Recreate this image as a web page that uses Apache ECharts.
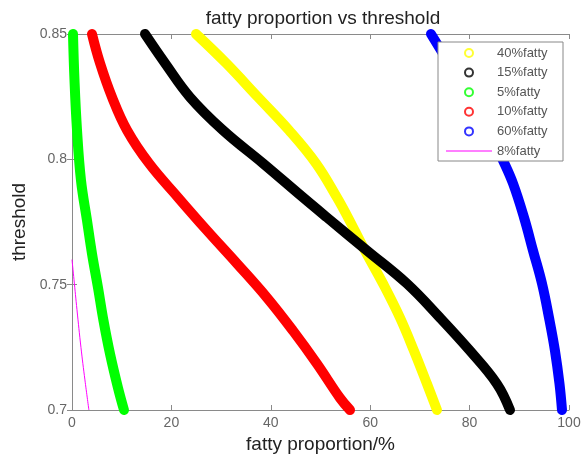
<!DOCTYPE html>
<html>
<head>
<meta charset="utf-8">
<script src="https://cdn.jsdelivr.net/npm/echarts@6/dist/echarts.min.js"></script>
<style>
  html, body { margin: 0; padding: 0; background: #fff; }
  #chart { width: 585px; height: 460px; }
</style>
</head>
<body>
<div id="chart"></div>
<script>
// points are [fatty proportion %, threshold]
var fatty40 = [[24.95,0.85],[30.99,0.8384],[37.42,0.8248],[43.66,0.8116],[49.09,0.7984],[53.32,0.7848],[55.53,0.7768],[58.95,0.7636],[62.58,0.7504],[66.0,0.7368],[68.81,0.7236],[71.43,0.7104],[73.44,0.7]];
var fatty15 = [[14.69,0.85],[18.71,0.8384],[23.74,0.8248],[30.38,0.8116],[38.43,0.7984],[46.48,0.7848],[51.31,0.7768],[59.36,0.7636],[67.4,0.7504],[74.04,0.7368],[80.08,0.7236],[85.51,0.7104],[88.13,0.7]];
var fatty5 = [[0.2,0.85],[0.5,0.8316],[1.01,0.8116],[1.81,0.7916],[3.02,0.7756],[4.02,0.7624],[5.23,0.7488],[6.34,0.7356],[7.65,0.7224],[9.26,0.7088],[10.46,0.7]];
var fatty10 = [[4.02,0.85],[5.63,0.8384],[8.05,0.8248],[11.07,0.8116],[15.49,0.7984],[21.33,0.7848],[27.16,0.7716],[33.2,0.7584],[39.24,0.7448],[44.47,0.7316],[49.3,0.7184],[53.92,0.7048],[55.94,0.7]];
var fatty60 = [[72.23,0.85],[75.45,0.8396],[78.47,0.8296],[81.49,0.8196],[84.31,0.8096],[86.72,0.7996],[88.73,0.7904],[90.95,0.7768],[92.76,0.7636],[94.57,0.7504],[95.98,0.7368],[97.18,0.7236],[98.09,0.7104],[98.59,0.7]];
var fatty8 = [[0,0.76],[0.4,0.752],[1.0,0.74],[1.8,0.725],[2.6,0.712],[3.4,0.7]];

var names = ['40%fatty', '15%fatty', '5%fatty', '10%fatty', '60%fatty', '8%fatty'];
var colors = ['#ffff00', '#000000', '#00ff00', '#ff0000', '#0000ff', '#ff00ff'];
var xTicks = [0, 20, 40, 60, 80, 100];
var yTicks = [0.7, 0.75, 0.8, 0.85];

var font = 'Liberation Sans, Arial, sans-serif';
var axisGray = '#8a8a8a';

function thick(i, data) {
    return {
        name: names[i],
        type: 'line',
        data: data,
        smooth: 0.4,
        symbol: 'none',
        clip: false,
        color: colors[i],
        lineStyle: { width: 10, color: colors[i], cap: 'round', join: 'round' }
    };
}

var chart = echarts.init(document.getElementById('chart'));
chart.setOption({
    animation: false,
    backgroundColor: '#fff',
    title: {
        text: 'fatty proportion vs threshold',
        left: 318,
        top: 4,
        textAlign: 'center',
        textStyle: { fontFamily: font, fontSize: 19, fontWeight: 'normal', color: '#222' }
    },
    grid: { left: 72, right: 16, top: 34, bottom: 50 },
    legend: {
        orient: 'vertical',
        left: 438,
        top: 42,
        padding: [4, 8, 3, 8],
        itemWidth: 46,
        itemHeight: 8,
        itemGap: 5.6,
        backgroundColor: '#fff',
        borderColor: '#888',
        borderWidth: 1,
        borderRadius: 0,
        textStyle: { fontFamily: font, fontSize: 13, lineHeight: 14, color: '#555', width: 58 },
        data: names.map(function (n, i) {
            if (i === 5) {
                return {
                    name: n,
                    icon: 'path://M0,0L46,0L46,1.2L0,1.2Z',
                    itemStyle: { color: colors[i], borderWidth: 0 }
                };
            }
            return {
                name: n,
                icon: 'emptyCircle',
                itemStyle: { color: colors[i], borderColor: colors[i], borderWidth: 0.7, opacity: 0.8 }
            };
        })
    },
    xAxis: [{
        type: 'value',
        min: xTicks[0],
        max: xTicks[xTicks.length - 1],
        interval: 20,
        name: 'fatty proportion/%',
        nameLocation: 'middle',
        nameGap: 22,
        nameTextStyle: { fontFamily: font, fontSize: 19, color: '#222' },
        axisLine: { show: true, lineStyle: { color: axisGray, width: 1 } },
        axisTick: { show: true, inside: true, length: 5, lineStyle: { color: axisGray } },
        axisLabel: { fontFamily: font, fontSize: 14, color: '#666', margin: 6 },
        splitLine: { show: false }
    }, {
        type: 'value',
        position: 'top',
        min: xTicks[0],
        max: xTicks[xTicks.length - 1],
        interval: 20,
        axisLine: { show: true, lineStyle: { color: axisGray, width: 1 } },
        axisTick: { show: true, inside: true, length: 5, lineStyle: { color: axisGray } },
        axisLabel: { show: false },
        splitLine: { show: false }
    }],
    yAxis: [{
        type: 'value',
        min: yTicks[0],
        max: yTicks[yTicks.length - 1],
        interval: 0.05,
        name: 'threshold',
        nameLocation: 'middle',
        nameGap: 40,
        nameTextStyle: { fontFamily: font, fontSize: 19, color: '#222' },
        axisLine: { show: true, lineStyle: { color: axisGray, width: 1 } },
        axisTick: { show: true, inside: true, length: 5, lineStyle: { color: axisGray } },
        axisLabel: {
            fontFamily: font, fontSize: 14, color: '#666', margin: 5,
            formatter: function (v) { return String(+v.toFixed(2)); }
        },
        splitLine: { show: false }
    }, {
        type: 'value',
        position: 'right',
        min: yTicks[0],
        max: yTicks[yTicks.length - 1],
        interval: 0.05,
        axisLine: { show: true, lineStyle: { color: axisGray, width: 1 } },
        axisTick: { show: true, inside: true, length: 5, lineStyle: { color: axisGray } },
        axisLabel: { show: false },
        splitLine: { show: false }
    }],
    series: [
        thick(0, fatty40),
        thick(1, fatty15),
        thick(2, fatty5),
        thick(3, fatty10),
        thick(4, fatty60),
        {
            name: names[5],
            type: 'line',
            data: fatty8,
            smooth: 0.4,
            symbol: 'none',
            color: colors[5],
            lineStyle: { width: 1, color: colors[5] }
        }
    ]
});

window.addEventListener('resize', function () {
    chart.resize();
});
</script>
</body>
</html>
